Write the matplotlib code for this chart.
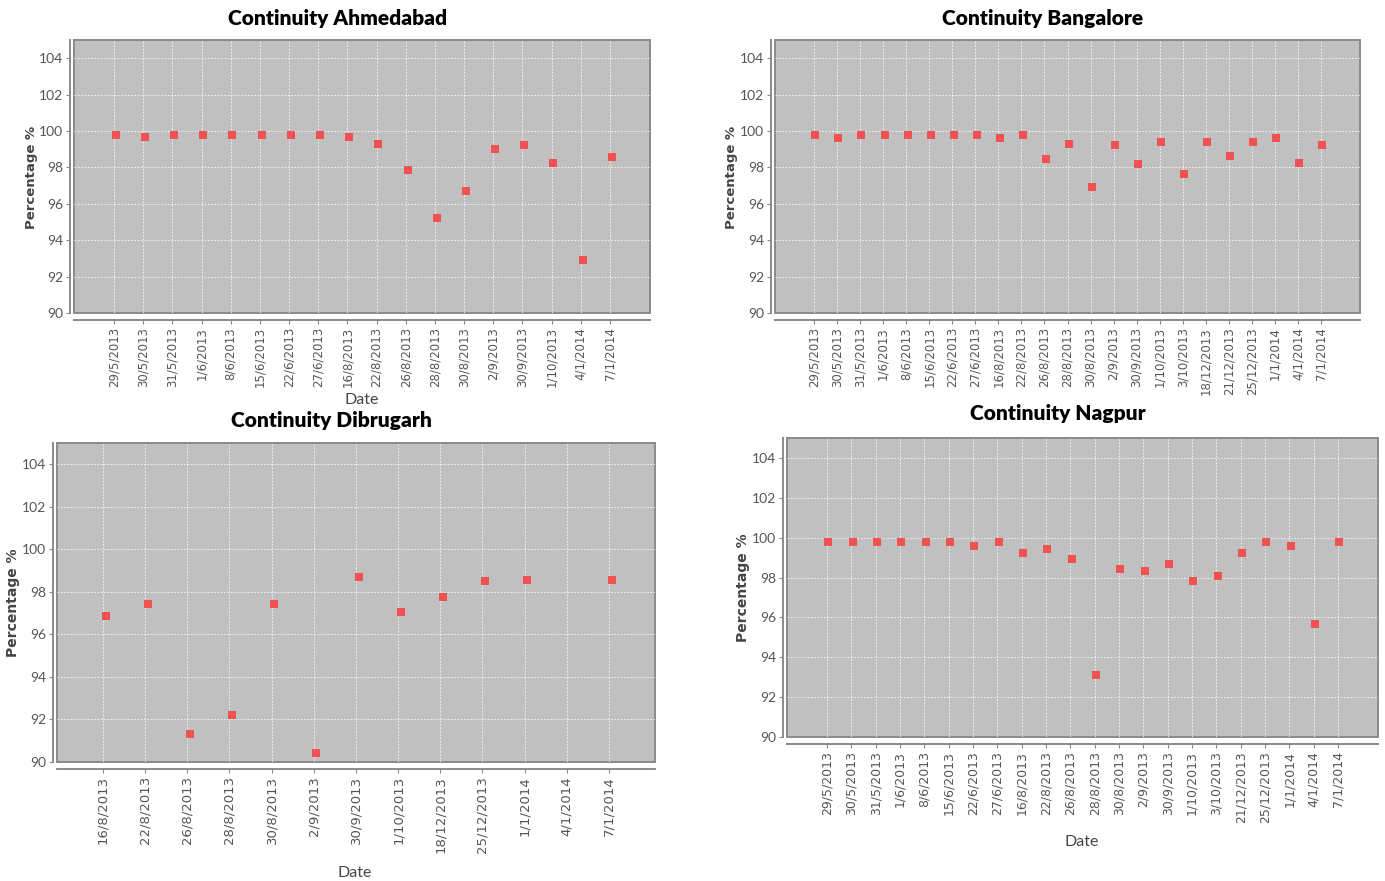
import numpy as np
import matplotlib
matplotlib.use("Agg")
import matplotlib.pyplot as plt

# --- data ---
ahm_dates = ["29/5/2013", "30/5/2013", "31/5/2013", "1/6/2013", "8/6/2013", "15/6/2013",
             "22/6/2013", "27/6/2013", "16/8/2013", "22/8/2013", "26/8/2013", "28/8/2013",
             "30/8/2013", "2/9/2013", "30/9/2013", "1/10/2013", "4/1/2014", "7/1/2014"]
ahm_vals = [99.8, 99.65, 99.8, 99.8, 99.8, 99.8, 99.8, 99.8, 99.65, 99.3, 97.85, 95.2,
            96.7, 99.0, 99.25, 98.25, 92.9, 98.55]

ban_dates = ["29/5/2013", "30/5/2013", "31/5/2013", "1/6/2013", "8/6/2013", "15/6/2013",
             "22/6/2013", "27/6/2013", "16/8/2013", "22/8/2013", "26/8/2013", "28/8/2013",
             "30/8/2013", "2/9/2013", "30/9/2013", "1/10/2013", "3/10/2013", "18/12/2013",
             "21/12/2013", "25/12/2013", "1/1/2014", "4/1/2014", "7/1/2014"]
ban_vals = [99.8, 99.6, 99.8, 99.8, 99.8, 99.8, 99.8, 99.8, 99.6, 99.8, 98.45, 99.3,
            96.9, 99.25, 98.2, 99.4, 97.65, 99.4, 98.6, 99.4, 99.6, 98.25, 99.25]

dib_dates = ["16/8/2013", "22/8/2013", "26/8/2013", "28/8/2013", "30/8/2013", "2/9/2013",
             "30/9/2013", "1/10/2013", "18/12/2013", "25/12/2013", "1/1/2014", "4/1/2014",
             "7/1/2014"]
dib_vals = [96.85, 97.45, 91.3, 92.2, 97.45, 90.4, 98.7, 97.05, 97.75, 98.5, 98.55, np.nan,
            98.55]

nag_dates = ["29/5/2013", "30/5/2013", "31/5/2013", "1/6/2013", "8/6/2013", "15/6/2013",
             "22/6/2013", "27/6/2013", "16/8/2013", "22/8/2013", "26/8/2013", "28/8/2013",
             "30/8/2013", "2/9/2013", "30/9/2013", "1/10/2013", "3/10/2013", "21/12/2013",
             "25/12/2013", "1/1/2014", "4/1/2014", "7/1/2014"]
nag_vals = [99.8, 99.8, 99.8, 99.8, 99.8, 99.8, 99.6, 99.8, 99.25, 99.45, 98.95, 93.1,
            98.45, 98.35, 98.7, 97.85, 98.1, 99.25, 99.8, 99.6, 95.65, 99.8]

W, H = 1385, 881
NARROW = ["Lato", "DejaVu Sans"]
fig = plt.figure(figsize=(W / 100, H / 100), dpi=100)


def px_rect(x0, y0, x1, y1):
    return [x0 / W, 1 - y1 / H, (x1 - x0) / W, (y1 - y0) / H]


def draw_panel(rect, dates, values, title, title_xy, ylab_xy, date_xy,
               gap_px=40, tick_fs=8.5, ylab_fs=9.5):
    ax = fig.add_axes(rect)
    n = len(dates)
    x = np.arange(n)
    width_px = rect[2] * W
    step = (width_px - 2 * gap_px) / (n - 1)
    m = gap_px / step

    ax.set_facecolor("#c0c0c0")
    ax.patch.set_edgecolor("#8a8a8a")
    ax.patch.set_linewidth(1.4)
    ax.plot(x + 0.06, values, linestyle="none", marker="s", markersize=6,
            color="#f05252", markeredgewidth=0, zorder=3)

    ax.set_xlim(-m, n - 1 + m)
    ax.set_ylim(90, 105)
    ax.set_yticks(range(90, 105, 2))
    ax.set_xticks(x)

    ax.grid(True, color="white", linestyle=(0, (2, 2)), linewidth=0.6, alpha=0.9)
    ax.set_axisbelow(True)

    for side in ("top", "right"):
        ax.spines[side].set_visible(False)
    ax.spines["left"].set_position(("outward", 3))
    ax.spines["bottom"].set_position(("outward", 5))
    for side in ("left", "bottom"):
        ax.spines[side].set_color("#8a8a8a")
        ax.spines[side].set_linewidth(1.4)
    ax.tick_params(length=3, width=0.8, color="#8a8a8a", pad=2,
                   labelcolor="#555555")

    ax.set_xticklabels(dates, rotation=90, fontsize=tick_fs, color="#555555")
    ax.set_yticklabels([str(v) for v in range(90, 105, 2)], family=NARROW,
                       fontsize=10, color="#555555")

    fig.text(title_xy[0] / W, 1 - title_xy[1] / H, title, ha="center", va="center",
             fontsize=15, fontweight="heavy", family=NARROW, color="black")
    fig.text(ylab_xy[0] / W, 1 - ylab_xy[1] / H, "Percentage %", rotation=90,
             ha="center", va="center", fontsize=ylab_fs, fontweight="bold",
             color="#444444")
    if date_xy is not None:
        fig.text(date_xy[0] / W, 1 - date_xy[1] / H, "Date", ha="center", va="center",
                 fontsize=11.5, family=NARROW, color="#444444")
    return ax


draw_panel(px_rect(74, 40, 650, 313), ahm_dates, ahm_vals, "Continuity Ahmedabad",
           (338, 19), (31, 177), (362, 400), gap_px=40)
draw_panel(px_rect(775, 40, 1360, 313), ban_dates, ban_vals, "Continuity Bangalore",
           (1043, 19), (732, 177), None, gap_px=39)
draw_panel(px_rect(57, 443, 655, 762), dib_dates, dib_vals, "Continuity Dibrugarh",
           (331, 420), (13, 603), (355, 873), gap_px=46, tick_fs=9.5, ylab_fs=10)
draw_panel(px_rect(787, 438, 1378, 737), nag_dates, nag_vals, "Continuity Nagpur",
           (1058, 414), (743, 588), (1082, 842), gap_px=40, tick_fs=9, ylab_fs=10)

fig.savefig("out.png", dpi=100)
